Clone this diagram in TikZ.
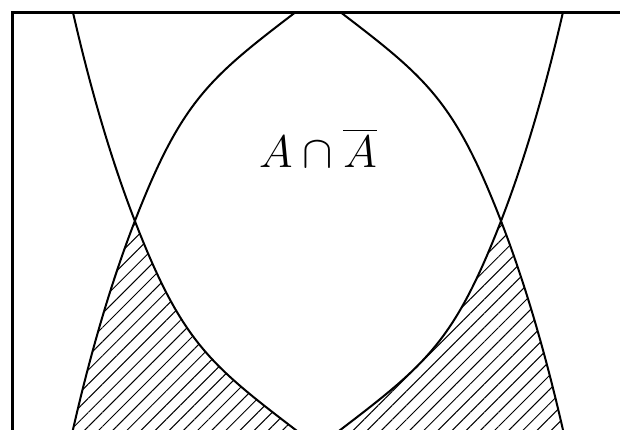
\documentclass[tikz,border=0pt]{standalone}
\usepackage{amsmath}
\usetikzlibrary{patterns.meta}
\tikzset{
  frameline/.style={line width=3pt},
  setcurve/.style={line width=2pt},
  hatch/.style={pattern={Lines[angle=45, distance=10pt, line width=1pt]}},
  setlabel/.style={font=\huge, scale=2.2, transform shape, anchor=base},
  bigarc/.style={x radius=322, y radius=1201},
}
% boundary of the set opening downwards; its mirror image opens upwards
\newcommand\capcurve{(-249.8,-230)
  arc[bigarc, start angle=140.87, end angle=124.65]
  .. controls (-132.6,130) and (-104.3,146) .. (0,226)
  .. controls (104.3,146) and (132.6,130) .. (183,0)
  arc[bigarc, start angle=55.35, end angle=39.13]}

\begin{document}
\begin{tikzpicture}[x=1pt, y=1pt]
  \useasboundingbox (-318,-209) rectangle (302,221);
  \begin{scope}
    \clip (-305.5,-230) rectangle (305.5,208.5);

    % hatched part: inside the lower-opening set, outside the other one
    \begin{scope}
      \clip \capcurve;
      \fill[hatch] (-310,-215) rectangle (310,215);
    \end{scope}
    \begin{scope}[yscale=-1]
      \fill[white] \capcurve;
    \end{scope}

    \draw[setcurve] \capcurve;
    \begin{scope}[yscale=-1]
      \draw[setcurve] \capcurve;
    \end{scope}
  \end{scope}

  \node[setlabel] (lbl) at (0,53) {$A\cap\overline{A}$};

  \draw[frameline] (-305.5,-230) rectangle (305.5,208.5);
\end{tikzpicture}
\end{document}
